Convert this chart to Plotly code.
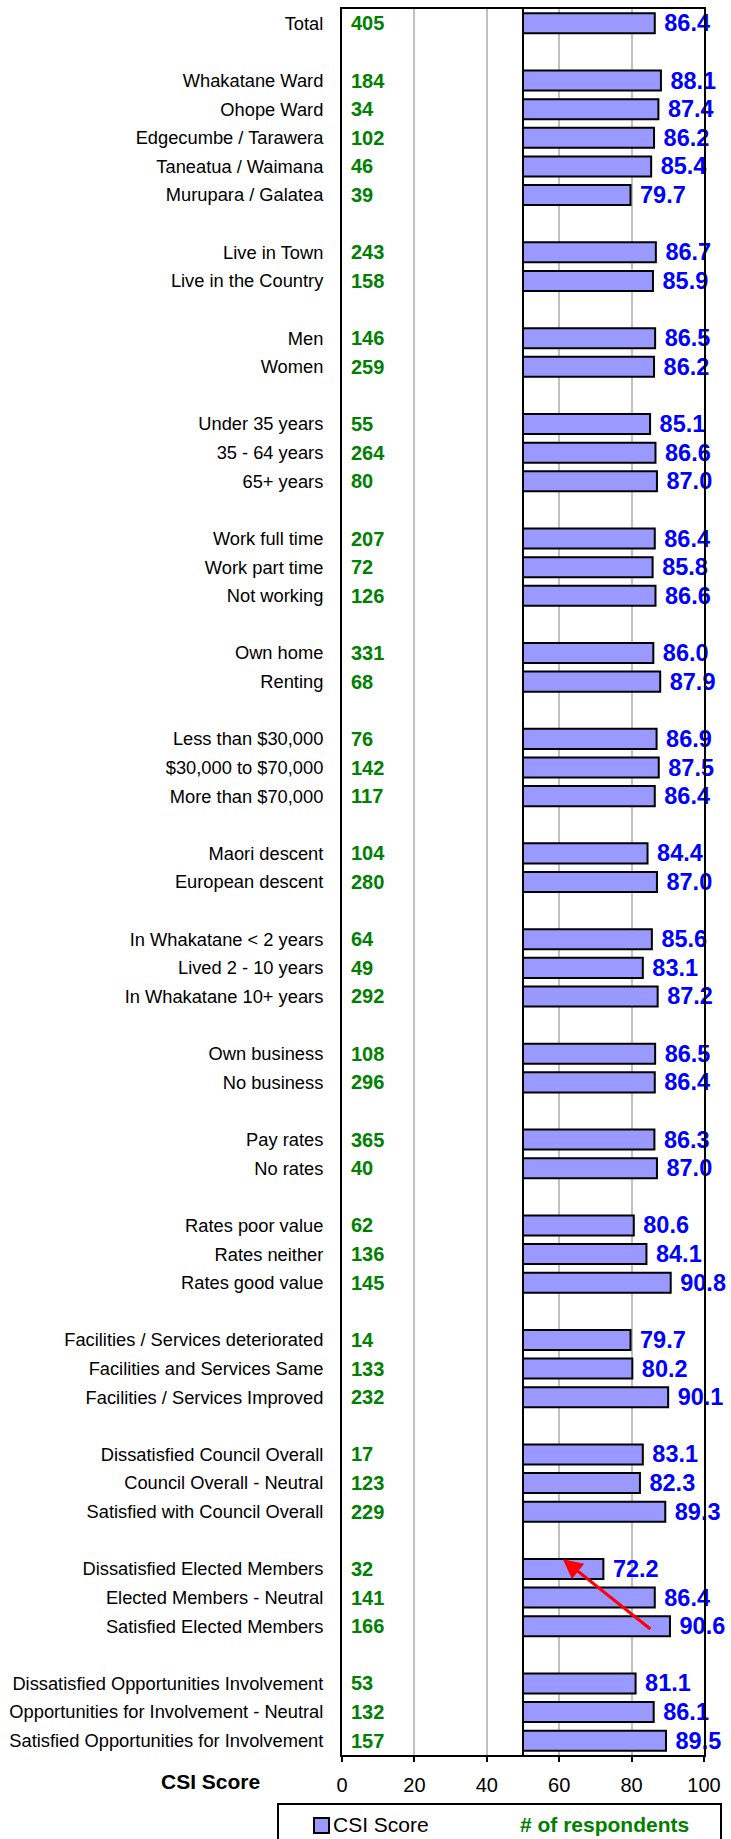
import plotly.graph_objects as go

# Segment labels, sample sizes and CSI scores (top to bottom)
labels = [
    "Total",
    "Whakatane Ward", "Ohope Ward", "Edgecumbe / Tarawera", "Taneatua / Waimana", "Murupara / Galatea",
    "Live in Town", "Live in the Country",
    "Men", "Women",
    "Under 35 years", "35 - 64 years", "65+ years",
    "Work full time", "Work part time", "Not working",
    "Own home", "Renting",
    "Less than $30,000", "$30,000 to $70,000", "More than $70,000",
    "Maori descent", "European descent",
    "In Whakatane < 2 years", "Lived 2 - 10 years", "In Whakatane 10+ years",
    "Own business", "No business",
    "Pay rates", "No rates",
    "Rates poor value", "Rates neither", "Rates good value",
    "Facilities / Services deteriorated", "Facilities and Services Same", "Facilities / Services Improved",
    "Dissatisfied Council Overall", "Council Overall - Neutral", "Satisfied with Council Overall",
    "Dissatisfied Elected Members", "Elected Members - Neutral", "Satisfied Elected Members",
    "Dissatisfied Opportunities Involvement", "Opportunities for Involvement - Neutral",
    "Satisfied Opportunities for Involvement",
]
respondents = [
    405,
    184, 34, 102, 46, 39,
    243, 158,
    146, 259,
    55, 264, 80,
    207, 72, 126,
    331, 68,
    76, 142, 117,
    104, 280,
    64, 49, 292,
    108, 296,
    365, 40,
    62, 136, 145,
    14, 133, 232,
    17, 123, 229,
    32, 141, 166,
    53, 132, 157,
]
csi_scores = [
    86.4,
    88.1, 87.4, 86.2, 85.4, 79.7,
    86.7, 85.9,
    86.5, 86.2,
    85.1, 86.6, 87.0,
    86.4, 85.8, 86.6,
    86.0, 87.9,
    86.9, 87.5, 86.4,
    84.4, 87.0,
    85.6, 83.1, 87.2,
    86.5, 86.4,
    86.3, 87.0,
    80.6, 84.1, 90.8,
    79.7, 80.2, 90.1,
    83.1, 82.3, 89.3,
    72.2, 86.4, 90.6,
    81.1, 86.1, 89.5,
]
group_sizes = [1, 5, 2, 2, 3, 3, 2, 3, 2, 3, 2, 2, 3, 3, 3, 3, 3]
x_ticks = [0, 20, 40, 60, 80, 100]
bar_base = 50

FONT = "Liberation Sans, Arial, Helvetica, sans-serif"
BLUE = "#0000FF"
GREEN = "#008000"
BAR_FILL = "#9999FF"

# Row positions: one empty slot between consecutive groups
rows = []
slot = 0
for gi, size in enumerate(group_sizes):
    for _ in range(size):
        rows.append(slot)
        slot += 1
    if gi < len(group_sizes) - 1:
        slot += 1
n_slots = slot

W, H = 731, 1839
ML, MR, MT, MB = 342, 27, 9, 84


def px_to_paper_x(p):
    return (p - ML) / (W - ML - MR)


def px_to_paper_y(p):
    return (H - MB - p) / (H - MT - MB)


fig = go.Figure()

fig.add_trace(go.Bar(
    y=rows,
    x=[s - bar_base for s in csi_scores],
    base=bar_base,
    orientation="h",
    width=0.7,
    marker=dict(color=BAR_FILL, line=dict(color="black", width=2)),
    text=["\u00a0" + f"{s:.1f}" for s in csi_scores],
    textposition="outside",
    constraintext="none",
    cliponaxis=False,
    textfont=dict(family=FONT, size=23.5, color=BLUE, weight="bold"),
    showlegend=False,
    hoverinfo="skip",
))

annotations = []
# Number of respondents beside each row
for r, n in zip(rows, respondents):
    annotations.append(dict(
        x=0, y=r, xref="x", yref="y", text=str(n), showarrow=False,
        xanchor="left", yanchor="middle", xshift=7,
        font=dict(family=FONT, size=20, color=GREEN, weight="bold"),
    ))

# Callout arrow between satisfied and dissatisfied elected members
i_dis = labels.index("Dissatisfied Elected Members")
i_sat = labels.index("Satisfied Elected Members")
annotations.append(dict(
    x=61.0, y=rows[i_dis] - 0.34, xref="x", yref="y",
    ax=85.6, ay=rows[i_sat] + 0.14, axref="x", ayref="y",
    text="", showarrow=True, arrowhead=2, arrowsize=1.3, arrowwidth=3,
    arrowcolor="#FF0000", standoff=0, startstandoff=0,
))

# Axis caption
annotations.append(dict(
    x=px_to_paper_x(210), y=px_to_paper_y(1781), xref="paper", yref="paper",
    text="<b>CSI Score</b>", showarrow=False, xanchor="center", yanchor="middle",
    font=dict(family=FONT, size=21, color="black"),
))

# Key box contents
annotations.append(dict(
    x=px_to_paper_x(331), y=px_to_paper_y(1824), xref="paper", yref="paper",
    text="CSI Score", showarrow=False, xanchor="left", yanchor="middle",
    font=dict(family=FONT, size=21, color="black"),
))
annotations.append(dict(
    x=px_to_paper_x(518), y=px_to_paper_y(1824), xref="paper", yref="paper",
    text="<b># of respondents</b>", showarrow=False, xanchor="left", yanchor="middle",
    font=dict(family=FONT, size=21, color=GREEN),
))

shapes = [
    # reference line at the bar base
    dict(type="line", xref="x", yref="paper", x0=bar_base, x1=bar_base, y0=0, y1=1,
         line=dict(color="black", width=2), layer="above"),
    # key frame
    dict(type="rect", xref="paper", yref="paper",
         x0=px_to_paper_x(278), x1=px_to_paper_x(721),
         y0=px_to_paper_y(1860), y1=px_to_paper_y(1804),
         line=dict(color="black", width=2), fillcolor="white", layer="above"),
    # key swatch
    dict(type="rect", xref="paper", yref="paper",
         x0=px_to_paper_x(314), x1=px_to_paper_x(329),
         y0=px_to_paper_y(1833), y1=px_to_paper_y(1818),
         line=dict(color="black", width=2), fillcolor=BAR_FILL, layer="above"),
]

fig.update_layout(
    width=W, height=H,
    margin=dict(l=ML, r=MR, t=MT, b=MB, pad=0, autoexpand=False),
    paper_bgcolor="white", plot_bgcolor="white",
    font=dict(family=FONT, color="black"),
    bargap=0.3,
    showlegend=False,
    annotations=annotations,
    shapes=shapes,
)

fig.update_xaxes(
    range=[0, 100], tickvals=x_ticks, ticktext=[str(t) for t in x_ticks],
    showgrid=True, gridcolor="#C0C0C0", gridwidth=2,
    showline=True, linecolor="black", linewidth=2, mirror=True,
    ticks="outside", ticklen=5, tickwidth=2, tickcolor="black",
    tickfont=dict(family=FONT, size=20, color="black"),
    ticklabelstandoff=6, automargin=False,
    zeroline=False, fixedrange=True,
)
fig.update_yaxes(
    range=[n_slots - 0.5, -0.5],
    tickvals=rows, ticktext=labels,
    showgrid=False, zeroline=False,
    showline=True, linecolor="black", linewidth=2, mirror=True,
    ticks="", ticklabelstandoff=13, automargin=False,
    tickfont=dict(family=FONT, size=18.3, color="black"),
    fixedrange=True,
)

fig.write_html("out.html")
